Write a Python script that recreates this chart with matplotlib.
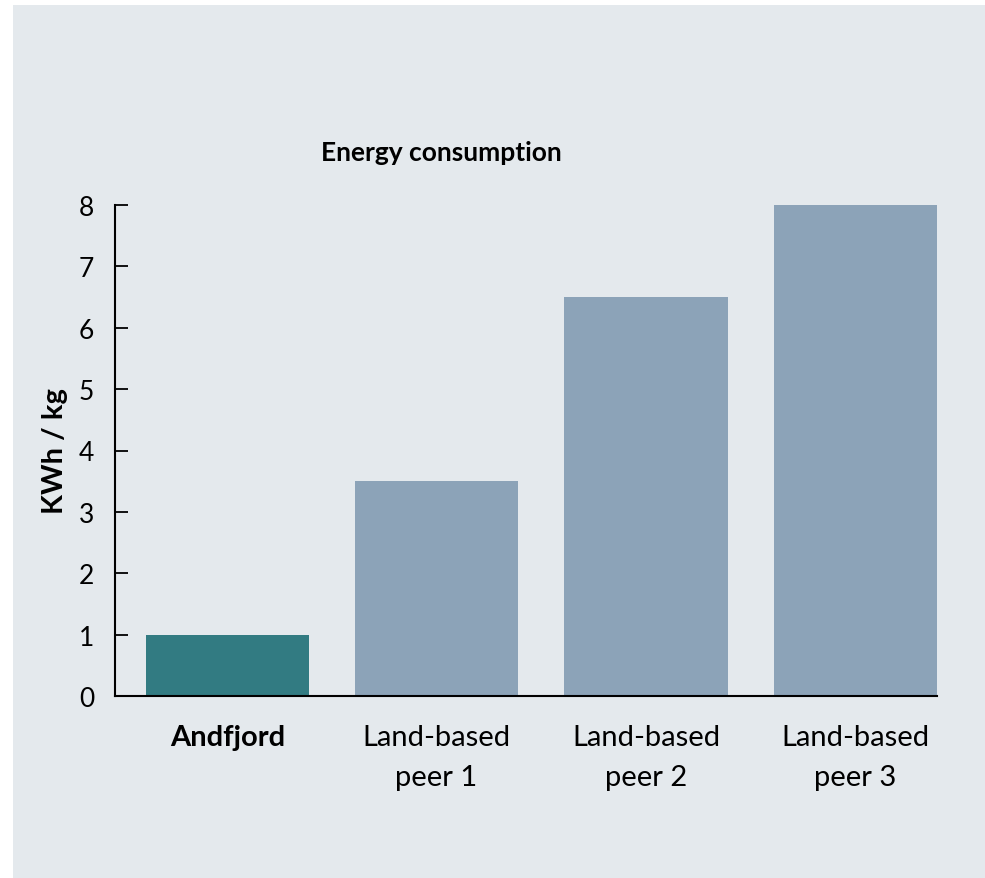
import matplotlib.pyplot as plt
from matplotlib.patches import Rectangle

categories = ["Andfjord", "Land-based\npeer 1", "Land-based\npeer 2", "Land-based\npeer 3"]
values = [1.0, 3.5, 6.5, 8.0]
bar_colors = ["#327B82", "#8CA3B8", "#8CA3B8", "#8CA3B8"]
yticks = [0, 1, 2, 3, 4, 5, 6, 7, 8]

plt.rcParams['font.family'] = ['Lato', 'DejaVu Sans']

W, H = 985, 879
fig = plt.figure(figsize=(W / 100, H / 100), dpi=100)
fig.patch.set_facecolor("white")
fig.patches.append(Rectangle((13 / W, 0), 1 - 13 / W, 1 - 6 / H, transform=fig.transFigure,
                             facecolor="#E4E9ED", edgecolor="none", zorder=-10))

ax = fig.add_axes([115 / W, 1 - 697 / H, (937 - 115) / W, (697 - 206) / H])
ax.set_facecolor("none")
x = list(range(len(categories)))
ax.bar(x, values, width=0.78, color=bar_colors, zorder=2)
ax.set_xlim(-0.536, 3.39)
ax.set_ylim(0, 8)
ax.set_yticks(yticks)
ax.set_xticks(x)
ax.set_xticklabels(categories, fontsize=21, linespacing=1.7)
ax.get_xticklabels()[0].set_fontweight("bold")
ax.tick_params(axis="x", length=0, pad=20)
ax.tick_params(axis="y", direction="in", length=9, width=1.3, labelsize=19, pad=15)
for s in ["top", "right"]:
    ax.spines[s].set_visible(False)
for s in ["left", "bottom"]:
    ax.spines[s].set_linewidth(1.5)
ax.set_ylabel("KWh / kg", fontsize=21, fontweight="bold", labelpad=8)

fig.text(441 / W, 1 - 153 / H, "Energy consumption", fontsize=19, fontweight="bold",
         ha="center", va="center")

fig.savefig("out.png", dpi=100)
